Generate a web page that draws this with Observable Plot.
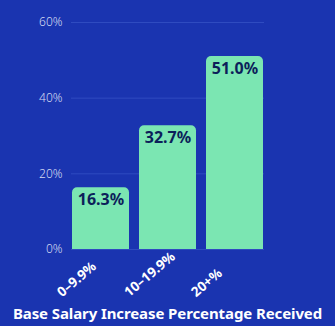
<!DOCTYPE html>
<html><head><meta charset="utf-8">
<script src="https://cdn.jsdelivr.net/npm/d3@7"></script>
<script src="https://cdn.jsdelivr.net/npm/@observablehq/plot@0.6"></script>
<style>
html,body{margin:0;padding:0;background:#1a34b0;}
#chart{width:335px;height:326px;overflow:hidden;}
.title{font-family:"Noto Sans",sans-serif;font-weight:700;color:#fff;font-size:15px;text-align:center;margin-top:7px;letter-spacing:-0.1px;}
</style></head>
<body><div id="chart"></div>
<script>
const categories = ["0–9.9%", "10–19.9%", "20+%"];
const values = [16.3, 32.7, 51.0];
const yTicks = [0, 20, 40, 60];
const title = "Base Salary Increase Percentage Received";

const data = categories.map((c, i) => ({cat: c, v: values[i]}));
const bg = "#1a34b0", barColor = "#7be6b2";

const plot = Plot.plot({
  width: 335, height: 296,
  marginLeft: 71, marginRight: 71, marginTop: 22, marginBottom: 47,
  style: {background: bg, fontFamily: "Noto Sans, sans-serif", overflow: "visible"},
  x: {domain: categories, paddingInner: 0.15, paddingOuter: 0, label: null, axis: null},
  y: {domain: [0, 60], ticks: yTicks, label: null},
  marks: [
    Plot.gridY(yTicks, {stroke: "#2f4bc0", strokeOpacity: 1, strokeWidth: 1}),
    Plot.barY(data, {x: "cat", y: "v", fill: barColor, rx: 5}),
    Plot.barY(data, {x: "cat", y1: 0, y2: d => d.v / 2, fill: barColor}),
    Plot.axisY(yTicks, {tickFormat: d => d + "%", tickSize: 0, tickPadding: 9, fill: "#d5daf0", fontSize: 12, fontWeight: 300}),
    Plot.text(categories, {x: d => d, frameAnchor: "bottom", rotate: -40, textAnchor: "start", lineAnchor: "bottom",
      dx: -39, dy: 48, fill: "#ffffff", fontSize: 13.5, fontWeight: 700}),
    Plot.text(data, {x: "cat", y: "v", text: d => d.v.toFixed(1) + "%", dy: 12, fill: "#0c1f5a", fontSize: 16, fontWeight: 700})
  ]
});
document.getElementById("chart").appendChild(plot);
const t = document.createElement("div");
t.className = "title"; t.textContent = title;
document.getElementById("chart").appendChild(t);
</script></body></html>
